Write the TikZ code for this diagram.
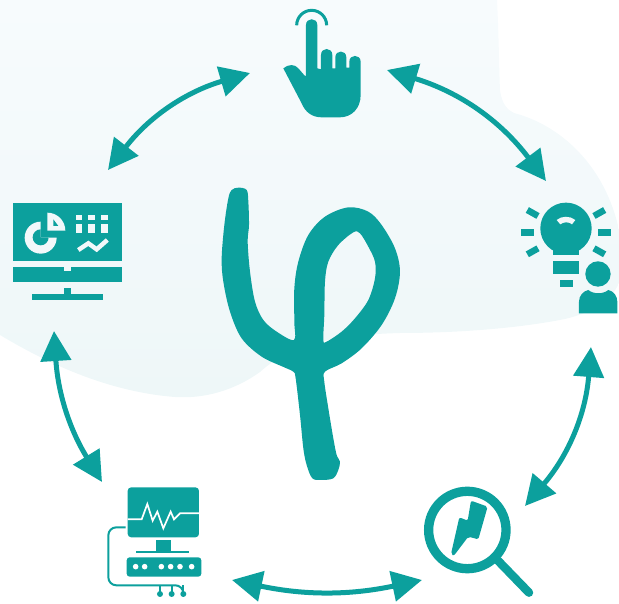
\documentclass[tikz,border=0pt]{standalone}
\usepackage{xcolor}
\usetikzlibrary{arrows.meta}
\definecolor{tealmark}{HTML}{0CA09D}
\definecolor{paleback}{HTML}{F2F8FA}
\definecolor{paletop}{HTML}{F7FBFD}
\definecolor{palelow}{HTML}{EEF7F8}
\tikzset{
	iconbox/.style={inner sep=0pt,outer sep=0pt,minimum width=#1},
	link/.style={tealmark,line width=5pt,{Triangle[length=30pt,width=30pt]}-{Triangle[length=30pt,width=30pt]}},
	tealfill/.style={fill=tealmark,draw=none},
	cutout/.style={fill=paleback,draw=none},
	zoomed/.style={x=.3333pt,y=-.3333pt}
}
\begin{document}
\begin{tikzpicture}[x=1pt,y=-1pt]
	\useasboundingbox (0,0) rectangle (619,604);
	% backdrop
	\shade[top color=paletop,bottom color=palelow,draw=none]
		(0,0) -- (497,0) .. controls (499,40) and (499,70) .. (500,90)
		.. controls (502,105) and (508,110) .. (514,113)
		.. controls (560,125) and (605,165) .. (619,230) -- (619,283)
		.. controls (610,303) and (590,313) .. (565,319)
		.. controls (520,328) and (460,333) .. (400,333)
		.. controls (330,335) and (290,345) .. (260,372)
		.. controls (235,390) and (205,399) .. (175,397)
		.. controls (110,392) and (50,365) .. (0,335) -- cycle;
	% the five stations, corners at the arrow tips
	\node[iconbox=137pt,minimum height=3pt] (touch) at (318.5,71.5) {};
	\node[iconbox=45pt,minimum height=166pt] (idea) at (568.5,264) {};
	\node[iconbox=103pt,minimum height=74pt] (lens) at (473.5,543) {};
	\node[iconbox=130pt,minimum height=98pt] (sensor) at (167,531) {};
	\node[iconbox=54pt,minimum height=161pt] (screen) at (81,250.5) {};
	\draw[link] (touch.south west) to[bend right=18] (screen.north east);
	\draw[link] (touch.north east) to[bend left=18] (idea.north west);
	\draw[link] (idea.south east) to[bend left=18] (lens.north east);
	\draw[link] (lens.south west) to[bend left=12] (sensor.south east);
	\draw[link] (sensor.north west) to[bend left=14] (screen.south west);
	% phi
	\begin{scope}[shift={(205,175)},zoomed]
		\fill[tealfill,even odd rule] plot[smooth cycle,tension=.55] coordinates {(100,38) (125,45) (130,80) (132,150) (128,200) (135,290) (150,380) (175,435) (215,470) (267,495) (268,440) (268,340) (280,260) (310,180) (360,125) (430,97) (490,110) (530,150) (570,220) (585,290) (570,370) (530,450) (470,520) (410,565) (360,590) (358,620) (370,700) (385,790) (395,840) (405,860) (400,885) (385,910) (350,915) (322,910) (305,870) (295,820) (285,720) (272,610) (265,590) (240,578) (170,545) (110,490) (75,410) (55,320) (50,250) (58,150) (70,70) (80,45)}
			plot[smooth cycle,tension=.55] coordinates {(355,495) (358,420) (360,320) (370,260) (400,210) (445,172) (465,175) (490,215) (510,260) (510,310) (490,375) (450,430) (410,470) (365,500)};
	\end{scope}
	% touch
	\begin{scope}[shift={(260,0)},zoomed]
		\draw[tealmark,line width=3pt] (110,76) arc[start angle=180,end angle=0,radius=15pt];
		\fill[tealfill] (70,205) .. controls (85,192) and (105,192) .. (115,205) -- (135,228) -- (138,228) -- (138,75)
			.. controls (138,52) and (172,52) .. (172,75) -- (172,205) -- (183,208) -- (183,165)
			.. controls (183,141) and (217,141) .. (217,165) -- (217,205) -- (226,205) -- (226,172)
			.. controls (226,149) and (259,149) .. (259,172) -- (259,203) -- (268,203) -- (268,185)
			.. controls (268,162) and (302,162) .. (302,185) -- (302,285)
			.. controls (302,325) and (275,352) .. (240,352) -- (185,352)
			.. controls (155,352) and (135,335) .. (125,310) -- cycle;
	\end{scope}
	% screen
	\begin{scope}[shift={(0,190)},zoomed]
		\fill[tealfill] (38,40) rectangle (367,212);
		\fill[tealfill] (38,232) rectangle (367,275);
		\fill[cutout] (193,232) rectangle (213,243);
		\fill[tealfill] (193,295) rectangle (213,312);
		\fill[tealfill] (96,312) rectangle (310,330);
		\fill[cutout] (122,142) -- (122,95) arc[start angle=90,delta angle=270,radius=16pt] -- cycle;
		\fill[tealfill] (122,142) -- (122,118) arc[start angle=90,delta angle=270,radius=8pt] -- cycle;
		\fill[cutout] (142,122) -- (142,68) arc[start angle=90,end angle=0,radius=18pt] -- cycle;
		\fill[tealfill] (160,88) -- (175,108) -- (160,108) -- cycle;
		\foreach \col in {227,265,304} {
			\fill[cutout] (\col,75) rectangle ++(19,14);
			\fill[cutout] (\col,102) rectangle ++(19,28);
		}
		\draw[paleback,line width=4.5pt] (235,180) -- (265,160) -- (290,178) -- (322,150);
	\end{scope}
	% idea
	\begin{scope}[shift={(510,195)},zoomed]
		\fill[tealfill] (168,100) circle[radius=25.7pt];
		\fill[tealfill] (130,150) rectangle (207,180);
		\fill[cutout] (140,75) .. controls (155,62) and (180,62) .. (196,75) -- (186,88) .. controls (178,80) and (160,80) .. (151,88) -- cycle;
		\fill[tealfill] (130,198) rectangle (207,236);
		\fill[tealfill] (150,255) rectangle (188,275);
		\fill[tealfill] (33,102) rectangle (72,122);
		\fill[tealfill] (264,102) rectangle (303,122);
		\foreach \sx/\sy/\ex/\ey in {52/45/84/63,284/45/252/63,52/178/84/160,284/178/252/160}
			\draw[tealmark,line width=6.5pt] (\sx,\sy) -- (\ex,\ey);
		\fill[tealfill] (264,237) circle[radius=12.7pt];
		\fill[tealfill] (207,355) -- (207,320) .. controls (207,302) and (220,288) .. (235,285)
			.. controls (250,298) and (280,298) .. (295,285) .. controls (310,288) and (322,302) .. (322,320) -- (322,355) -- cycle;
	\end{scope}
	% lens
	\begin{scope}[shift={(415,480)},zoomed]
		\draw[tealmark,line width=9.3pt] (157,150) circle[radius=38.7pt];
		\draw[tealmark,line width=8.5pt,line cap=round] (250,243) -- (342,338);
		\fill[tealfill,rounded corners=2pt] (168,62) -- (218,80) -- (190,178) -- (160,170) -- (116,228) -- (108,222) -- (133,112) -- (158,122) -- cycle;
	\end{scope}
	% sensor
	\begin{scope}[shift={(100,480)},zoomed]
		\fill[tealfill,rounded corners=3.5pt] (83,22) rectangle (297,172);
		\draw[white,line width=1.7pt] (83,118) -- (125,118) -- (142,72) -- (158,122) -- (172,95) -- (190,145) -- (212,95) -- (222,118) -- (240,100) -- (297,100);
		\fill[tealfill] (168,180) rectangle (212,215);
		\fill[tealfill] (108,213) rectangle (267,218);
		\fill[tealfill,rounded corners=3pt] (80,232) rectangle (304,290);
		\foreach \px in {107,134,184,212,240,275}
			\fill[white] (\px,260) circle[radius=2.8pt];
		\draw[tealmark,line width=2pt,rounded corners=8pt] (77,142) -- (25,142) -- (25,316) -- (250,316) -- (250,340);
		\foreach \px in {180,215,250} {
			\draw[tealmark,line width=2pt] (\px,316) -- (\px,340);
			\fill[tealfill] (\px,342) circle[radius=3pt];
		}
	\end{scope}
\end{tikzpicture}
\end{document}
